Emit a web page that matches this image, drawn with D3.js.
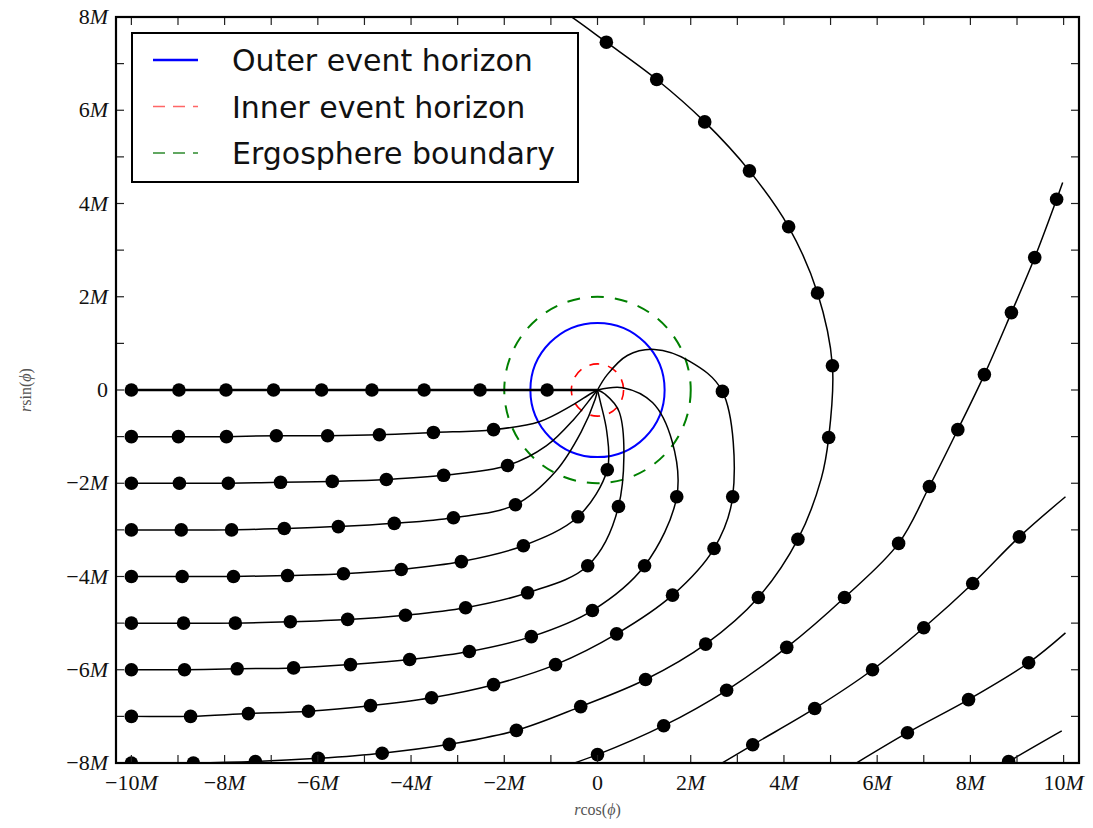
<!DOCTYPE html>
<html>
<head>
<meta charset="utf-8">
<script src="https://cdn.jsdelivr.net/npm/d3@7"></script>
<style>
  body { margin: 0; background: #fff; }
  svg { display: block; }
</style>
</head>
<body>
<svg id="chart" width="1093" height="828"></svg>
<script>
// ---- axes ----
const xDomain = [-10.33, 10.33];
const yDomain = [-8, 8];
const xTickValues = d3.range(-10, 11);
const yTickValues = d3.range(-8, 9);

// ---- black hole radii (units of M) ----
const outerHorizonR = 1.44;
const innerHorizonR = 0.56;
const ergosphereR = 2.0;
const legendLabels = ["Outer event horizon", "Inner event horizon", "Ergosphere boundary"];

// ---- trajectories: [x, y, marker] (marker 1 = sampled point drawn as a dot) ----
const traj0 = [[-10,0,1],[-8.98,0,1],[-7.97,0,1],[-6.95,0,1],[-5.92,0,1],[-4.84,0,1],[-3.72,0,1],[-2.52,0,1],[-1.08,0,1],[0,0,0]];
const traj1 = [[-10,-1,1],[-8.99,-1,1],[-7.96,-1,1],[-6.89,-0.98,1],[-5.79,-0.98,1],[-4.68,-0.96,1],[-3.52,-0.91,1],[-2.23,-0.85,1],[-1.25,-0.68,0],[-0.55,-0.33,0],[-0.15,-0.08,0],[0,0,0]];
const traj2 = [[-10,-2,1],[-8.97,-2,1],[-7.92,-2,1],[-6.80,-1.98,1],[-5.69,-1.96,1],[-4.53,-1.92,1],[-3.30,-1.83,1],[-1.93,-1.62,1],[-1.1,-1.2,0],[-0.5,-0.62,0],[-0.12,-0.15,0],[0,0,0]];
const traj3 = [[-10,-3,1],[-8.93,-3,1],[-7.85,-3,1],[-6.72,-2.97,1],[-5.56,-2.93,1],[-4.36,-2.86,1],[-3.09,-2.74,1],[-1.76,-2.46,1],[-0.9,-1.75,0],[-0.35,-0.9,0],[-0.05,-0.2,0],[0,0,0]];
const traj4 = [[-10,-4,1],[-8.91,-4,1],[-7.81,-4,1],[-6.65,-3.98,1],[-5.45,-3.94,1],[-4.21,-3.85,1],[-2.92,-3.68,1],[-1.59,-3.34,1],[-0.42,-2.72,1],[0.21,-1.71,1],[0.2,-0.9,0],[0.06,-0.25,0],[0,0,0]];
const traj5 = [[-10,-5,1],[-8.88,-5,1],[-7.77,-5,1],[-6.59,-4.97,1],[-5.36,-4.92,1],[-4.12,-4.83,1],[-2.83,-4.67,1],[-1.50,-4.35,1],[-0.21,-3.77,1],[0.45,-2.5,1],[0.47,-0.48,0],[0.15,-0.08,0],[0,0,0]];
const traj6 = [[-10,-6,1],[-8.86,-6,1],[-7.73,-5.98,1],[-6.52,-5.96,1],[-5.30,-5.89,1],[-4.03,-5.78,1],[-2.75,-5.61,1],[-1.42,-5.29,1],[-0.11,-4.73,1],[1.01,-3.77,1],[1.70,-2.29,1],[1.6,-1.1,0],[1.18,-0.27,0],[0.54,0.05,0],[0,0,0]];
const traj7 = [[-10,-7,1],[-8.73,-7,1],[-7.49,-6.94,1],[-6.20,-6.89,1],[-4.87,-6.77,1],[-3.56,-6.60,1],[-2.23,-6.32,1],[-0.90,-5.89,1],[0.41,-5.23,1],[1.61,-4.40,1],[2.50,-3.40,1],[2.90,-2.29,1],[2.68,-0.03,1],[1.97,0.62,0],[1.22,0.87,0],[0.64,0.74,0],[0.21,0.33,0],[0,0,0]];
const traj8 = [[-10,-8,1],[-8.67,-8,1],[-7.34,-7.97,1],[-5.99,-7.9,1],[-4.62,-7.79,1],[-3.18,-7.6,1],[-1.74,-7.3,1],[-0.36,-6.79,1],[1.03,-6.21,1],[2.32,-5.45,1],[3.45,-4.45,1],[4.3,-3.2,1],[4.8,-1.9,0],[4.96,-1.02,1],[5.04,0.52,1],[4.72,2.08,1],[4.10,3.50,1],[3.26,4.70,1],[2.30,5.75,1],[1.27,6.66,1],[0.19,7.46,1],[-0.7,8.1,0],[-1.2,8.4,0]];
const traj9 = [[-1.4,-8.3,0],[0,-7.82,1],[1.42,-7.20,1],[2.77,-6.44,1],[4.06,-5.52,1],[5.30,-4.45,1],[6.46,-3.29,1],[7.12,-2.07,1],[7.73,-0.85,1],[8.30,0.33,1],[8.88,1.66,1],[9.38,2.84,1],[9.85,4.09,1],[9.98,4.45,0]];
const traj10 = [[2.0,-8.4,0],[3.33,-7.61,1],[4.66,-6.83,1],[5.9,-6.0,1],[7.0,-5.1,1],[8.05,-4.15,1],[9.05,-3.15,1],[10.04,-2.29,0]];
const traj11 = [[4.9,-8.4,0],[6.65,-7.35,1],[7.96,-6.64,1],[9.25,-5.85,1],[10.04,-5.21,0]];
const traj12 = [[8.3,-8.3,0],[8.82,-7.97,1],[9.96,-7.31,0]];
const trajectories = [traj0, traj1, traj2, traj3, traj4, traj5, traj6, traj7, traj8, traj9, traj10, traj11, traj12];

// ---- layout ----
const svg = d3.select("#chart");
const plot = { left: 116, right: 1079, top: 17, bottom: 763 };
const x = d3.scaleLinear().domain(xDomain).range([plot.left, plot.right]);
const y = d3.scaleLinear().domain(yDomain).range([plot.bottom, plot.top]);

svg.append("defs").append("clipPath").attr("id", "plotClip")
  .append("rect")
  .attr("x", plot.left).attr("y", plot.top)
  .attr("width", plot.right - plot.left).attr("height", plot.bottom - plot.top);

const g = svg.append("g").attr("clip-path", "url(#plotClip)");

// horizons and ergosphere
const cx = x(0), cy = y(0);
const rpx = r => x(r) - x(0);
g.append("circle").attr("cx", cx).attr("cy", cy).attr("r", rpx(ergosphereR))
  .attr("fill", "none").attr("stroke", "#008000").attr("stroke-width", 2).attr("stroke-dasharray", "13,11");
g.append("circle").attr("cx", cx).attr("cy", cy).attr("r", rpx(outerHorizonR))
  .attr("fill", "none").attr("stroke", "#0000ff").attr("stroke-width", 2);
g.append("circle").attr("cx", cx).attr("cy", cy).attr("r", rpx(innerHorizonR))
  .attr("fill", "none").attr("stroke", "#ff0000").attr("stroke-width", 1.6).attr("stroke-dasharray", "10,9");

// trajectories
const line = d3.line().x(d => x(d[0])).y(d => y(d[1])).curve(d3.curveCatmullRom.alpha(0.5));
trajectories.forEach((t, i) => {
  g.append("path").attr("d", line(t))
    .attr("fill", "none").attr("stroke", "#000")
    .attr("stroke-width", i === 0 ? 2.6 : 1.5);
  g.selectAll(null).data(t.filter(d => d[2] === 1)).enter()
    .append("circle")
    .attr("cx", d => x(d[0])).attr("cy", d => y(d[1]))
    .attr("r", 6.8).attr("fill", "#000");
});

// ---- frame and ticks ----
const tickLen = 8;
const ticks = svg.append("g").attr("stroke", "#222").attr("stroke-width", 1.2);
xTickValues.forEach(v => {
  ticks.append("line").attr("x1", x(v)).attr("x2", x(v)).attr("y1", plot.bottom).attr("y2", plot.bottom - tickLen);
  ticks.append("line").attr("x1", x(v)).attr("x2", x(v)).attr("y1", plot.top).attr("y2", plot.top + tickLen);
});
yTickValues.forEach(v => {
  ticks.append("line").attr("y1", y(v)).attr("y2", y(v)).attr("x1", plot.left).attr("x2", plot.left + tickLen);
  ticks.append("line").attr("y1", y(v)).attr("y2", y(v)).attr("x1", plot.right).attr("x2", plot.right - tickLen);
});
svg.append("rect")
  .attr("x", plot.left).attr("y", plot.top)
  .attr("width", plot.right - plot.left).attr("height", plot.bottom - plot.top)
  .attr("fill", "none").attr("stroke", "#000").attr("stroke-width", 2.2);

// tick labels: even values only, as multiples of M
const serif = "'Liberation Serif', 'Times New Roman', serif";
function tickLabel(sel, v) {
  if (v === 0) { sel.append("tspan").text("0"); return; }
  sel.append("tspan").text((v < 0 ? "\u2212" : "") + Math.abs(v));
  sel.append("tspan").attr("font-style", "italic").text("M");
}
xTickValues.filter(v => v % 2 === 0).forEach(v => {
  const t = svg.append("text").attr("x", x(v)).attr("y", 790)
    .attr("text-anchor", "middle").attr("font-family", serif).attr("font-size", 22).attr("fill", "#111");
  tickLabel(t, v);
});
yTickValues.filter(v => v % 2 === 0).forEach(v => {
  const t = svg.append("text").attr("x", plot.left - 8).attr("y", y(v) + 7)
    .attr("text-anchor", "end").attr("font-family", serif).attr("font-size", 22).attr("fill", "#111");
  tickLabel(t, v);
});

// axis titles
function axisTitle(sel, fn) {
  sel.append("tspan").attr("font-style", "italic").text("r");
  sel.append("tspan").text(fn + "(");
  sel.append("tspan").attr("font-style", "italic").text("\u03d5");
  sel.append("tspan").text(")");
}
axisTitle(svg.append("text").attr("x", x(0)).attr("y", 815)
  .attr("text-anchor", "middle").attr("font-family", serif).attr("font-size", 16).attr("fill", "#555"), "cos");
axisTitle(svg.append("text").attr("transform", `translate(31,${y(0)}) rotate(-90)`)
  .attr("text-anchor", "middle").attr("font-family", serif).attr("font-size", 16).attr("fill", "#555"), "sin");

// ---- legend ----
const legend = svg.append("g");
legend.append("rect").attr("x", 132).attr("y", 33).attr("width", 446).attr("height", 149)
  .attr("fill", "#fff").attr("stroke", "#000").attr("stroke-width", 2);
const legendStyles = [
  { stroke: "#0000ff", dash: null, width: 2.5 },
  { stroke: "#ff6666", dash: "12,8", width: 1.6 },
  { stroke: "#2e8b2e", dash: "12,8", width: 1.6 }
];
legendLabels.forEach((lab, i) => {
  const yy = 60 + i * 46.5;
  legend.append("line").attr("x1", 153).attr("x2", 198).attr("y1", yy).attr("y2", yy)
    .attr("stroke", legendStyles[i].stroke).attr("stroke-width", legendStyles[i].width)
    .attr("stroke-dasharray", legendStyles[i].dash);
  legend.append("text").attr("x", 232).attr("y", yy + 11)
    .attr("font-family", "'DejaVu Sans', sans-serif").attr("font-size", 30).attr("fill", "#111")
    .text(lab);
});
</script>
</body>
</html>
